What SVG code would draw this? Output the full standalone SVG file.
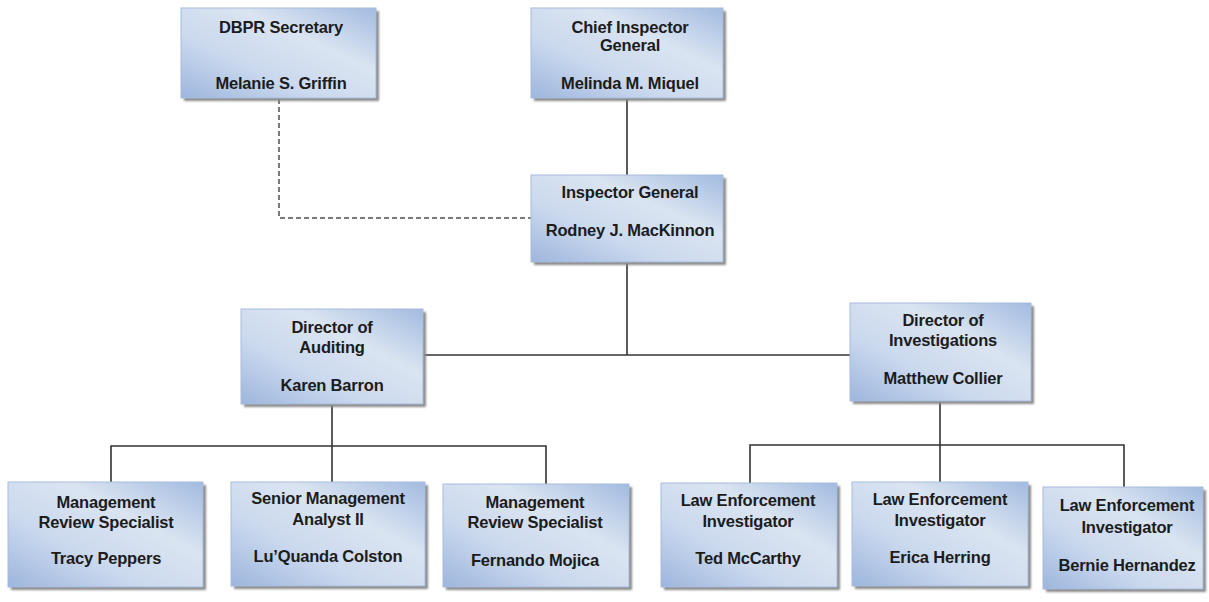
<svg xmlns="http://www.w3.org/2000/svg" width="1209" height="602" viewBox="0 0 1209 602">
<defs>
<linearGradient id="g" x1="0" y1="1" x2="1" y2="0">
<stop offset="0" stop-color="#9db6dd"/>
<stop offset="0.35" stop-color="#cbd9ee"/>
<stop offset="0.65" stop-color="#dae4f1"/>
<stop offset="1" stop-color="#a2bbe0"/>
</linearGradient>
<filter id="sh" x="-10%" y="-10%" width="130%" height="130%">
<feGaussianBlur stdDeviation="1.2"/>
</filter>
</defs>
<style>
.box{fill:url(#g);stroke:#a7bcdc;stroke-width:1}
.shadow{fill:#8a8a8a;filter:url(#sh)}
text{font-family:"Liberation Sans",Arial,sans-serif;font-weight:bold;font-size:16.5px;fill:#1c1c1c;text-anchor:middle;letter-spacing:-0.2px}
.c{fill:none;stroke:#333;stroke-width:1.6}
.d{fill:none;stroke:#7a7a7a;stroke-width:2;stroke-dasharray:5,3}
</style>
<rect width="1209" height="602" fill="#fff"/>
<g id="connectors">
<path class="d" d="M279 99 V218 H531"/>
<path class="c" d="M627 99 V175"/>
<path class="c" d="M627 263 V355"/>
<path class="c" d="M423 355 H850"/>
<path class="c" d="M332 405 V446"/>
<path class="c" d="M111 482 V446 H546 V484"/>
<path class="c" d="M332 446 V482"/>
<path class="c" d="M940 402 V482"/>
<path class="c" d="M750 483 V445 H1124 V487"/>
</g>
<g id="dbpr">
<rect class="shadow" x="184" y="11" width="195" height="90"/>
<rect class="box" x="181" y="8" width="195" height="90"/>
<text x="281" y="33">DBPR Secretary</text>
<text x="281" y="89">Melanie S. Griffin</text>
</g>
<g id="chief">
<rect class="shadow" x="534" y="11" width="192" height="90"/>
<rect class="box" x="531" y="8" width="192" height="90"/>
<text x="630" y="33">Chief Inspector</text>
<text x="630" y="51">General</text>
<text x="630" y="89">Melinda M. Miquel</text>
</g>
<g id="ig">
<rect class="shadow" x="534" y="178" width="192" height="87"/>
<rect class="box" x="531" y="175" width="192" height="87"/>
<text x="630" y="198">Inspector General</text>
<text x="630" y="236">Rodney J. MacKinnon</text>
</g>
<g id="auditing">
<rect class="shadow" x="244" y="312" width="182" height="95"/>
<rect class="box" x="241" y="309" width="182" height="95"/>
<text x="332" y="333">Director of</text>
<text x="332" y="353">Auditing</text>
<text x="332" y="391">Karen Barron</text>
</g>
<g id="investigations">
<rect class="shadow" x="853" y="306" width="181" height="98"/>
<rect class="box" x="850" y="303" width="181" height="98"/>
<text x="943" y="326">Director of</text>
<text x="943" y="346">Investigations</text>
<text x="943" y="384">Matthew Collier</text>
</g>
<g id="peppers">
<rect class="shadow" x="11" y="485" width="195" height="105"/>
<rect class="box" x="8" y="482" width="195" height="105"/>
<text x="106" y="508">Management</text>
<text x="106" y="528">Review Specialist</text>
<text x="106" y="564">Tracy Peppers</text>
</g>
<g id="colston">
<rect class="shadow" x="234" y="485" width="194" height="104"/>
<rect class="box" x="231" y="482" width="194" height="104"/>
<text x="328" y="504">Senior Management</text>
<text x="328" y="525">Analyst II</text>
<text x="328" y="562">Lu’Quanda Colston</text>
</g>
<g id="mojica">
<rect class="shadow" x="446" y="487" width="186" height="103"/>
<rect class="box" x="443" y="484" width="186" height="103"/>
<text x="535" y="508">Management</text>
<text x="535" y="528">Review Specialist</text>
<text x="535" y="566">Fernando Mojica</text>
</g>
<g id="mccarthy">
<rect class="shadow" x="664" y="486" width="176" height="104"/>
<rect class="box" x="661" y="483" width="176" height="104"/>
<text x="748" y="506">Law Enforcement</text>
<text x="748" y="527">Investigator</text>
<text x="748" y="564">Ted McCarthy</text>
</g>
<g id="herring">
<rect class="shadow" x="855" y="485" width="176" height="104"/>
<rect class="box" x="852" y="482" width="176" height="104"/>
<text x="940" y="505">Law Enforcement</text>
<text x="940" y="526">Investigator</text>
<text x="940" y="563">Erica Herring</text>
</g>
<g id="hernandez">
<rect class="shadow" x="1046" y="490" width="160" height="102"/>
<rect class="box" x="1043" y="487" width="160" height="102"/>
<text x="1127" y="511">Law Enforcement</text>
<text x="1127" y="533">Investigator</text>
<text x="1127" y="571">Bernie Hernandez</text>
</g>
</svg>
